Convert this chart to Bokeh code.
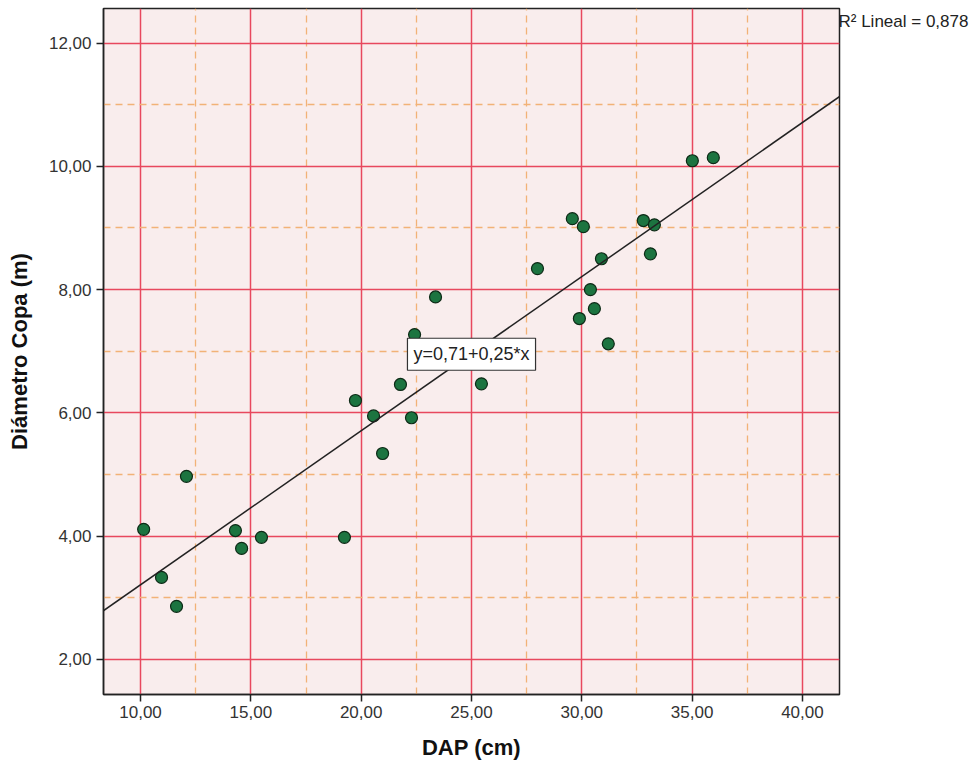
from bokeh.plotting import figure
from bokeh.models import (ColumnDataSource, FixedTicker, Range1d, Label, Slope,
                          LinearAxis)
from bokeh.embed import file_html
from bokeh.resources import INLINE

# ---- data ----
dap_cm = [10.14, 10.95, 11.63, 12.08, 14.30, 14.58, 15.48, 19.24, 19.74, 20.56,
          20.97, 21.78, 22.28, 22.42, 23.37, 25.45, 27.99, 29.57, 30.07, 29.89,
          30.39, 30.57, 30.89, 31.20, 32.79, 33.29, 33.11, 35.01, 35.96]
diametro_copa_m = [4.11, 3.33, 2.86, 4.97, 4.09, 3.80, 3.98, 3.98, 6.20, 5.95,
                   5.34, 6.46, 5.92, 7.27, 7.88, 6.47, 8.34, 9.15, 9.02, 7.53,
                   8.00, 7.69, 8.50, 7.12, 9.12, 9.05, 8.58, 10.09, 10.14]

intercept = 0.71
slope = 0.25
r2_text = "R² Lineal = 0,878"
eq_text = "y=0,71+0,25*x"

x_ticks = [10, 15, 20, 25, 30, 35, 40]
x_tick_labels = ["10,00", "15,00", "20,00", "25,00", "30,00", "35,00", "40,00"]
x_minor = [12.5, 17.5, 22.5, 27.5, 32.5, 37.5]
y_ticks = [2, 4, 6, 8, 10, 12]
y_tick_labels = ["2,00", "4,00", "6,00", "8,00", "10,00", "12,00"]
y_minor = [3, 5, 7, 9, 11]

FONT = "Liberation Sans"
W, H = 975, 765
TOP, BOTTOM = 8, 71
FRAME_H = H - TOP - BOTTOM

p = figure(width=W, height=H, output_backend="svg", toolbar_location=None,
           x_range=Range1d(8.32, 41.68), y_range=Range1d(1.43, 12.56),
           min_border_left=103, min_border_right=136, min_border_top=TOP,
           min_border_bottom=BOTTOM)

p.background_fill_color = "#f9eded"
p.border_fill_color = "white"
p.outline_line_color = "#222222"
p.outline_line_width = 1.5

p.xaxis.ticker = FixedTicker(ticks=x_ticks, minor_ticks=x_minor)
p.yaxis.ticker = FixedTicker(ticks=y_ticks, minor_ticks=y_minor)
p.xaxis.major_label_overrides = {t: l for t, l in zip(x_ticks, x_tick_labels)}
p.yaxis.major_label_overrides = {t: l for t, l in zip(y_ticks, y_tick_labels)}

for ax in (p.xaxis, p.yaxis):
    ax.axis_line_color = "#222222"
    ax.axis_line_width = 1.5
    ax.major_tick_line_color = "#222222"
    ax.major_tick_line_width = 1.5
    ax.major_tick_out = 7
    ax.major_tick_in = 0
    ax.minor_tick_line_color = None
    ax.major_label_text_font = FONT
    ax.major_label_text_font_size = "17px"
    ax.major_label_text_color = "#333333"
    ax.axis_label_text_font = FONT
    ax.axis_label_text_font_size = "22px"
    ax.axis_label_text_font_style = "bold"
    ax.axis_label_text_color = "#111111"

p.xaxis.axis_label = "DAP (cm)"
p.yaxis.axis_label = "Diámetro Copa (m)"
p.xaxis.major_label_standoff = 4
p.yaxis.major_label_standoff = 5
p.xaxis.axis_label_standoff = 14
p.yaxis.axis_label_standoff = 14

for g in (p.xgrid, p.ygrid):
    g.grid_line_color = "#e8485e"
    g.grid_line_width = 1.5
    g.minor_grid_line_color = "#f2b277"
    g.minor_grid_line_width = 1.3
    g.minor_grid_line_dash = "7 5"

p.add_layout(Slope(gradient=slope, y_intercept=intercept,
                   line_color="#222222", line_width=1.5))

src = ColumnDataSource(data=dict(x=dap_cm, y=diametro_copa_m))
p.scatter("x", "y", source=src, size=12, fill_color="#1c7440",
          line_color="#0d2a16", line_width=1.2)

p.add_layout(Label(x=25.0, y=6.95, text=eq_text, text_align="center",
                   text_baseline="middle", text_font=FONT,
                   text_font_size="18px", text_color="#222222",
                   background_fill_color="white", border_line_color="#333333",
                   border_line_width=1.2, padding=6))

# R² note to the right of the frame, drawn as the single label of a bare right axis
# (pixel-like extra range so that the note sits 13 px below the frame's top)
p.extra_y_ranges = {"note": Range1d(0, FRAME_H)}
r2_pos = FRAME_H - 13
r2_axis = LinearAxis(y_range_name="note",
                     ticker=FixedTicker(ticks=[r2_pos], minor_ticks=[]),
                     major_label_overrides={r2_pos: r2_text},
                     axis_line_color=None, major_tick_line_color=None,
                     minor_tick_line_color=None, major_tick_out=0,
                     major_tick_in=0, major_label_standoff=-1,
                     major_label_text_font=FONT,
                     major_label_text_font_size="17px",
                     major_label_text_color="#222222")
p.add_layout(r2_axis, "right")

open("out.html", "w").write(file_html(p, INLINE))
